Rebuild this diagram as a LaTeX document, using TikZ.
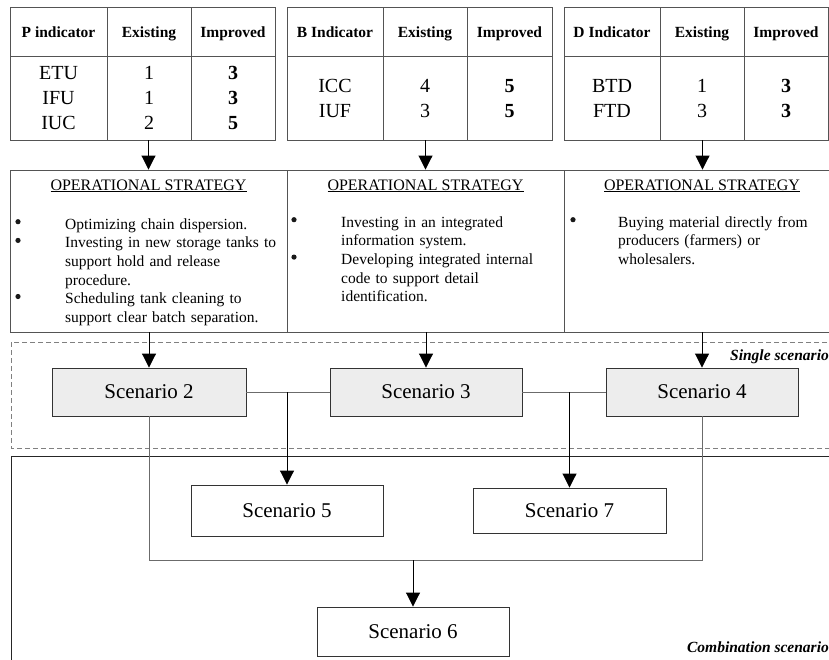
\documentclass[tikz,border=0pt]{standalone}
\usepackage{fontspec}
\setmainfont{Liberation Serif}
\usetikzlibrary{arrows.meta}
\definecolor{tblline}{gray}{0.33}
\definecolor{frameline}{gray}{0.42}
\definecolor{scenfill}{gray}{0.93}
\definecolor{dashline}{gray}{0.5}
\tikzset{
  tbl/.style={draw=tblline, line width=0.9pt, inner sep=0pt},
  tline/.style={draw=tblline, line width=0.9pt},
  hdr/.style={font=\bfseries\fontsize{15.5}{18}\selectfont, anchor=base, inner sep=0pt},
  val/.style={font=\fontsize{20}{24}\selectfont, anchor=base, inner sep=0pt},
  bval/.style={font=\bfseries\fontsize{20}{24}\selectfont, anchor=base, inner sep=0pt},
  stratcell/.style={draw=tblline, line width=0.9pt, inner sep=0pt, minimum width=277, minimum height=162},
  strathead/.style={font=\fontsize{16}{19}\selectfont, anchor=base, inner sep=0pt},
  items/.style={font=\fontsize{15.5}{18.7}\selectfont, anchor=base west, inner sep=0pt, align=left, text width=215pt},
  dot/.style={fill=black!90},
  scen/.style={draw=black!80, line width=0.9pt, fill=scenfill, inner sep=0pt, font=\fontsize{21}{25}\selectfont},
  scenw/.style={draw=black!80, line width=0.9pt, fill=white, inner sep=0pt, font=\fontsize{21}{25}\selectfont},
  arr/.style={draw=black, line width=0.9pt, -{Triangle[width=14pt,length=14pt]}},
  conn/.style={draw=frameline, line width=0.9pt},
  grp/.style={font=\bfseries\itshape\fontsize{15.5}{18}\selectfont, anchor=base east, inner sep=0pt},
}
\begin{document}
\begin{tikzpicture}[x=1pt,y=-1pt]
\clip (0,0) rectangle (829,659);
\fill[white] (0,0) rectangle (829,659);

% ---------- Tables ----------
\node[tbl, minimum width=265, minimum height=133] (tP) at (142.5,73.5) {};
\node[tbl, minimum width=265, minimum height=133] (tB) at (419.5,73.5) {};
\node[tbl, minimum width=264, minimum height=133] (tD) at (696,73.5) {};
\draw[tline] (10,56) -- (275,56) (107,7) -- (107,140) (191,7) -- (191,140);
\draw[tline] (287,56) -- (552,56) (383,7) -- (383,140) (467,7) -- (467,140);
\draw[tline] (564,56) -- (828,56) (660,7) -- (660,140) (744,7) -- (744,140);

\node[hdr] (hP1) at (58.5,37) {P indicator};
\node[hdr] (hP2) at (149,37) {Existing};
\node[hdr] (hP3) at (233,37) {Improved};
\node[hdr] (hB1) at (335,37) {B Indicator};
\node[hdr] (hB2) at (425,37) {Existing};
\node[hdr] (hB3) at (509.5,37) {Improved};
\node[hdr] (hD1) at (612,37) {D Indicator};
\node[hdr] (hD2) at (702,37) {Existing};
\node[hdr] (hD3) at (786,37) {Improved};

\node[val] (p11) at (58.5,79.5) {ETU};
\node[val] (p12) at (149,79.5) {1};
\node[bval] (p13) at (233,79.5) {3};
\node[val] (p21) at (58.5,104) {IFU};
\node[val] (p22) at (149,104) {1};
\node[bval] (p23) at (233,104) {3};
\node[val] (p31) at (58.5,129) {IUC};
\node[val] (p32) at (149,129) {2};
\node[bval] (p33) at (233,129) {5};

\node[val] (b11) at (335,92) {ICC};
\node[val] (b12) at (425,92) {4};
\node[bval] (b13) at (509.5,92) {5};
\node[val] (b21) at (335,117) {IUF};
\node[val] (b22) at (425,117) {3};
\node[bval] (b23) at (509.5,117) {5};

\node[val] (d11) at (612,92) {BTD};
\node[val] (d12) at (702,92) {1};
\node[bval] (d13) at (786,92) {3};
\node[val] (d21) at (612,117) {FTD};
\node[val] (d22) at (702,117) {3};
\node[bval] (d23) at (786,117) {3};

% ---------- Strategy row ----------
\node[stratcell] (sP) at (148.5,251) {};
\node[stratcell] (sB) at (425.5,251) {};
\node[stratcell] (sD) at (702.5,251) {};

\node[strathead] (hsP) at (148.5,190) {\underline{OPERATIONAL STRATEGY}};
\node[strathead] (hsB) at (425.5,190) {\underline{OPERATIONAL STRATEGY}};
\node[strathead] (hsD) at (702,190) {\underline{OPERATIONAL STRATEGY}};

% bullets
\fill[dot] (18,221.7) circle[radius=2.6pt];
\fill[dot] (18,240.4) circle[radius=2.6pt];
\fill[dot] (18,296.5) circle[radius=2.6pt];
\fill[dot] (294,219.7) circle[radius=2.6pt];
\fill[dot] (294,257.1) circle[radius=2.6pt];
\fill[dot] (573,219.7) circle[radius=2.6pt];

\node[items] (iP) at (65,229) {Optimizing chain dispersion.\\
Investing in new storage tanks to\\
support hold and release\\
procedure.\\
Scheduling tank cleaning to\\
support clear batch separation.};
\node[items] (iB) at (341,227) {Investing in an integrated\\
information system.\\
Developing integrated internal\\
code to support detail\\
identification.};
\node[items] (iD) at (618,227) {Buying material directly from\\
producers (farmers) or\\
wholesalers.};

% ---------- Group frames ----------
\draw[dashline, line width=0.9pt, dash pattern=on 5pt off 3pt] (11,342) rectangle (845,448);
\node[grp] (gS) at (829,360) {Single scenario};
\draw[black!85, line width=0.9pt] (11,456) rectangle (845,680);
\node[grp] (gC) at (829,652) {Combination scenario};

% ---------- Scenario nodes ----------
\node[scen, minimum width=194, minimum height=48] (S2) at (149,392) {Scenario 2};
\node[scen, minimum width=192, minimum height=48] (S3) at (426,392) {Scenario 3};
\node[scen, minimum width=192, minimum height=48] (S4) at (702,392) {Scenario 4};
\node[scenw, minimum width=192, minimum height=51] (S5) at (287,510.5) {Scenario 5};
\node[scenw, minimum width=193, minimum height=45] (S7) at (569.5,510.5) {Scenario 7};
\node[scenw, minimum width=192, minimum height=49] (S6) at (413,631.5) {Scenario 6};

% ---------- Connectors ----------
\draw[arr] (tP.south -| sP.north) -- (sP.north);
\draw[arr] (tB.south -| sB.north) -- (sB.north);
\draw[arr] (tD.south -| sD.north) -- (sD.north);

\draw[arr] (sP.south -| S2.north) -- (S2.north);
\draw[arr] (sB.south -| S3.north) -- (S3.north);
\draw[arr] (sD.south -| S4.north) -- (S4.north);

\coordinate (j1) at (S5.north |- S2.east);
\coordinate (j2) at (S7.north |- S3.east);
\draw[conn] (S2.east) -- (S3.west);
\draw[conn] (S3.east) -- (S4.west);
\draw[arr] (j1) -- (S5.north);
\draw[arr] (j2) -- (S7.north);

\coordinate (f1) at (149,560);
\coordinate (f2) at (702,560);
\coordinate (f3) at (S6.north |- f1);
\draw[conn] (S2.south) -- (f1) -- (f2) -- (S4.south);
\draw[arr] (f3) -- (S6.north);
\end{tikzpicture}
\end{document}
